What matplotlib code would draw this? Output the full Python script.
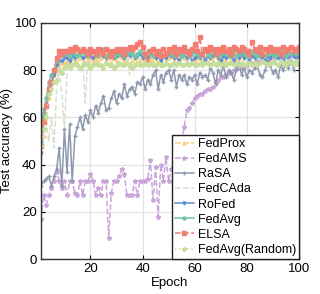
import numpy as np
import matplotlib
matplotlib.use("Agg")
import matplotlib.pyplot as plt

plt.rcParams['font.family'] = ['Liberation Sans', 'DejaVu Sans']

epochs = list(range(1, 101))

fedprox = [
    50, 52, 60, 68, 74, 78, 80, 82, 83, 83,
    84, 83, 85, 84, 83, 85, 84, 86, 84, 85,
    84, 85, 83, 85, 86, 84, 85, 83, 85, 84,
    86, 85, 84, 85, 87, 84, 85, 86, 84, 85,
    84, 86, 85, 84, 85, 83, 85, 86, 84, 85,
    86, 84, 85, 84, 86, 85, 84, 86, 85, 84,
    85, 86, 84, 85, 86, 85, 84, 86, 85, 86,
    85, 84, 86, 85, 86, 84, 85, 86, 85, 86,
    85, 86, 85, 87, 86, 85, 86, 87, 86, 85,
    86, 87, 86, 85, 87, 86, 87, 86, 88, 87,
]
fedams = [
    17, 27, 23, 27, 30, 33, 37, 33, 30, 33,
    27, 33, 33, 28, 27, 33, 27, 33, 33, 36,
    33, 27, 30, 27, 33, 33, 9, 28, 33, 33,
    35, 38, 36, 27, 27, 27, 33, 27, 33, 33,
    33, 34, 42, 25, 39, 18, 40, 33, 43, 33,
    38, 36, 40, 45, 50, 56, 63, 64, 66, 68,
    69, 70, 70, 71, 72, 72, 73, 75, 76, 77,
    77, 78, 79, 79, 80, 81, 81, 81, 82, 82,
    83, 83, 83, 84, 84, 84, 85, 84, 85, 85,
    85, 86, 85, 86, 86, 85, 86, 86, 87, 86,
]
rasa = [
    31, 33, 34, 35, 31, 35, 38, 47, 31, 55,
    37, 57, 33, 52, 56, 60, 55, 61, 58, 63,
    60, 65, 62, 66, 69, 63, 64, 68, 71, 66,
    70, 68, 74, 69, 72, 73, 70, 75, 74, 77,
    72, 76, 74, 78, 80, 72, 78, 75, 79, 80,
    76, 80, 73, 78, 76, 78, 74, 77, 76, 78,
    74, 79, 77, 78, 76, 81, 79, 74, 80, 78,
    82, 77, 80, 79, 76, 80, 83, 78, 81, 77,
    80, 79, 81, 82, 78, 77, 80, 84, 82, 79,
    80, 77, 82, 80, 83, 81, 84, 80, 85, 82,
]
fedcada = [
    40, 52, 58, 50, 60, 47, 72, 80, 70, 56,
    78, 84, 86, 85, 87, 86, 85, 66, 85, 87,
    86, 88, 87, 86, 88, 87, 86, 88, 87, 86,
    88, 87, 86, 87, 78, 86, 88, 87, 88, 87,
    86, 88, 89, 87, 88, 86, 88, 89, 87, 88,
    89, 88, 87, 89, 88, 87, 89, 88, 87, 89,
    88, 89, 87, 88, 89, 88, 87, 89, 88, 89,
    88, 89, 88, 87, 89, 88, 89, 88, 89, 87,
    89, 88, 89, 88, 89, 89, 88, 89, 88, 89,
    89, 88, 89, 90, 89, 88, 89, 90, 89, 90,
]
rofed = [
    45, 63, 66, 70, 74, 78, 82, 84, 84, 85,
    85, 84, 86, 85, 86, 87, 85, 86, 87, 86,
    85, 87, 86, 89, 86, 85, 87, 86, 85, 86,
    87, 86, 85, 87, 86, 88, 85, 86, 87, 85,
    86, 85, 87, 86, 85, 86, 84, 86, 85, 87,
    86, 85, 86, 84, 86, 87, 85, 86, 84, 85,
    86, 85, 87, 84, 86, 85, 86, 87, 85, 84,
    86, 85, 87, 86, 84, 86, 85, 87, 85, 86,
    84, 86, 85, 87, 86, 85, 84, 86, 85, 87,
    86, 85, 86, 84, 86, 85, 87, 86, 85, 86,
]
fedavg = [
    50, 62, 68, 75, 78, 80, 84, 86, 86, 87,
    87, 86, 88, 87, 86, 87, 88, 87, 86, 87,
    88, 87, 86, 88, 87, 86, 87, 88, 86, 87,
    87, 88, 86, 87, 88, 87, 86, 87, 88, 87,
    86, 88, 87, 86, 87, 88, 87, 86, 87, 88,
    87, 86, 88, 87, 86, 87, 88, 86, 87, 88,
    87, 86, 87, 88, 87, 86, 88, 87, 86, 87,
    88, 87, 86, 87, 88, 86, 87, 88, 87, 86,
    87, 88, 87, 86, 88, 87, 86, 87, 88, 87,
    86, 87, 88, 87, 86, 88, 87, 88, 87, 88,
]
elsa = [
    48, 58, 65, 72, 75, 80, 85, 88, 87, 88,
    88, 89, 88, 90, 89, 88, 89, 88, 87, 89,
    88, 87, 89, 88, 87, 89, 88, 86, 88, 89,
    88, 89, 87, 89, 90, 89, 90, 91, 92, 90,
    87, 83, 88, 89, 87, 88, 86, 89, 87, 89,
    88, 90, 87, 89, 88, 90, 88, 87, 89, 91,
    88, 94, 87, 89, 88, 90, 89, 87, 89, 88,
    90, 88, 89, 87, 90, 89, 88, 90, 89, 88,
    87, 92, 89, 88, 90, 87, 89, 88, 90, 89,
    88, 89, 87, 90, 88, 89, 90, 88, 89, 90,
]
fedavg_random = [
    48, 55, 60, 70, 72, 75, 76, 80, 79, 81,
    82, 81, 82, 83, 82, 81, 82, 83, 82, 81,
    82, 83, 82, 82, 81, 83, 82, 82, 81, 82,
    83, 82, 82, 83, 82, 81, 82, 83, 82, 82,
    83, 82, 83, 82, 82, 83, 82, 82, 83, 82,
    82, 83, 82, 83, 82, 82, 83, 82, 83, 82,
    82, 83, 82, 83, 83, 82, 83, 82, 83, 82,
    83, 82, 83, 83, 82, 83, 82, 83, 82, 83,
    83, 82, 83, 82, 83, 84, 83, 82, 83, 84,
    83, 82, 84, 83, 82, 84, 83, 82, 84, 83,
]

series = [
    ("FedProx", fedprox, '#FBCF7E', '--', '^'),
    ("FedAMS", fedams, '#C9A5DA', '--', '*'),
    ("RaSA", rasa, '#8E99AF', '-', '+'),
    ("FedCAda", fedcada, '#DADFD0', '--', None),
    ("RoFed", rofed, '#5B8ED6', '-', 'v'),
    ("FedAvg", fedavg, '#6FC6A8', '-', 'o'),
    ("ELSA", elsa, '#F37D70', '--', 's'),
    ("FedAvg(Random)", fedavg_random, '#C6DE9C', ':', 'D'),
]

fig = plt.figure(figsize=(3.2, 2.94), dpi=100)
ax = fig.add_axes([0.128, 0.119, 0.806, 0.803])

for name, vals, color, ls, mk in series:
    ms = 3.2 if mk == '*' else 2.2
    ax.plot(epochs, vals, color=color, linestyle=ls, marker=mk,
            markersize=ms, linewidth=1.1, label=name)

ax.set_xlim(1, 100)
ax.set_ylim(0, 100)
ax.set_xticks([20, 40, 60, 80, 100])
ax.set_yticks([0, 20, 40, 60, 80, 100])
ax.grid(True, color='#E3E3E3', linewidth=0.9)
ax.set_axisbelow(True)
ax.tick_params(direction='in', top=True, right=True, labelsize=9.5, length=3, pad=3)
for s in ax.spines.values():
    s.set_color('#333333')
    s.set_linewidth(1.0)
ax.set_xlabel("Epoch", fontsize=9.5, labelpad=1)
ax.set_ylabel("Test accuracy (%)", fontsize=9.5, labelpad=1)

leg = ax.legend(loc='lower right', fontsize=9, frameon=True, fancybox=False,
                borderaxespad=0, handlelength=1.5, handletextpad=0.3,
                labelspacing=0.25, borderpad=0.25, framealpha=1)
leg.get_frame().set_edgecolor('#222222')
leg.get_frame().set_linewidth(1.0)

fig.savefig("out.png", dpi=100)
